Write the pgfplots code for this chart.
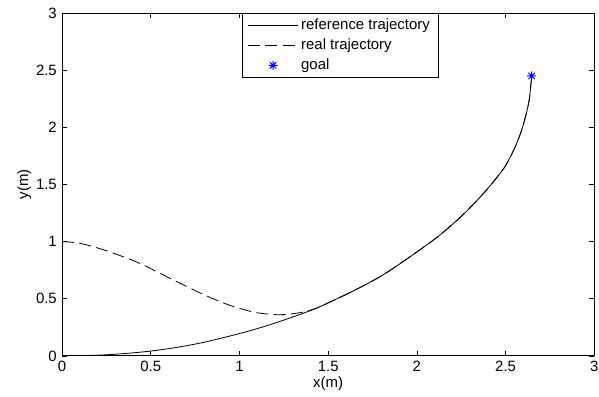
\documentclass[border=0pt]{standalone}
\usepackage{pgfplots}
\pgfplotsset{compat=1.18}
\usepackage{fontspec}
\setmainfont{Liberation Sans}

% eight-armed asterisk: a plus and a cross on top of each other
\pgfdeclareplotmark{star8}{%
  \pgfpathmoveto{\pgfqpoint{-\pgfplotmarksize}{0pt}}%
  \pgfpathlineto{\pgfqpoint{\pgfplotmarksize}{0pt}}%
  \pgfpathmoveto{\pgfqpoint{0pt}{-\pgfplotmarksize}}%
  \pgfpathlineto{\pgfqpoint{0pt}{\pgfplotmarksize}}%
  \pgfpathmoveto{\pgfqpoint{-0.707\pgfplotmarksize}{-0.707\pgfplotmarksize}}%
  \pgfpathlineto{\pgfqpoint{0.707\pgfplotmarksize}{0.707\pgfplotmarksize}}%
  \pgfpathmoveto{\pgfqpoint{-0.707\pgfplotmarksize}{0.707\pgfplotmarksize}}%
  \pgfpathlineto{\pgfqpoint{0.707\pgfplotmarksize}{-0.707\pgfplotmarksize}}%
  \pgfusepathqstroke}

\begin{document}
\begin{tikzpicture}
\fontsize{11.2pt}{13pt}\selectfont
\begin{axis}[
  name=ax,
  scale only axis,
  width=399pt, height=257pt,
  xmin=0, xmax=3, ymin=0, ymax=3,
  xtick={0,0.5,...,3}, ytick={0,0.5,...,3},
  /pgf/number format/assume math mode=true,
  tick label style={font=\fontsize{11.2pt}{13pt}\selectfont},
  label style={font=\fontsize{11.2pt}{13pt}\selectfont},
  xlabel={x(m)}, ylabel={y(m)},
  xlabel style={yshift=4pt},
  ylabel style={yshift=-4pt},
  tick align=inside,
  major tick length=4pt,
  axis line style={line width=0.6pt},
  every tick/.style={black, line width=0.5pt},
  legend cell align=left,
  legend style={at={(0.338,1)}, anchor=north west, draw=black, line width=0.6pt,
    font=\fontsize{11.2pt}{13pt}\selectfont, inner xsep=4pt, inner ysep=2pt,
    row sep=1.2pt},
  legend image code/.code={\draw[mark repeat=2,mark phase=2,#1]
    plot coordinates {(0pt,0pt) (18.75pt,0pt) (37.5pt,0pt)};},
]
% planned path
\addplot[black, line width=0.6pt, smooth] coordinates {
  (0,0) (0.2,0.006) (0.35,0.02) (0.5,0.042) (0.65,0.075) (0.8,0.119)
  (1.0,0.195) (1.15,0.262) (1.3,0.34) (1.43,0.415) (1.55,0.5) (1.65,0.575)
  (1.8,0.7) (1.95,0.855) (2.05,0.965) (2.14,1.07) (2.27,1.25) (2.38,1.43)
  (2.45,1.56) (2.5,1.665) (2.55,1.815) (2.587,1.96) (2.615,2.11)
  (2.634,2.25) (2.647,2.45)
};
\addlegendentry{reference trajectory}
% tracked path
\addplot[black, line width=0.6pt, smooth, dash pattern=on 9pt off 4pt] coordinates {
  (0,1) (0.1,0.985) (0.24,0.925) (0.43,0.815) (0.62,0.67) (0.8,0.535)
  (0.95,0.44) (1.09,0.38) (1.22,0.36) (1.33,0.375) (1.43,0.415) (1.55,0.5)
  (1.65,0.575) (1.8,0.7) (1.95,0.855) (2.05,0.965) (2.14,1.07) (2.27,1.25)
  (2.38,1.43) (2.45,1.56) (2.5,1.665) (2.55,1.815) (2.587,1.96) (2.615,2.11)
  (2.634,2.25) (2.647,2.45)
};
\addlegendentry{real trajectory}
% target point
\addplot[blue, only marks, mark=star8, mark size=3.4pt, line width=0.7pt] coordinates {(2.647,2.45)};
\addlegendentry{goal}
\end{axis}
\pgfresetboundingbox
\path ([xshift=-46.5pt,yshift=-30.75pt]ax.south west) rectangle ([xshift=3.5pt,yshift=9.75pt]ax.north east);
\end{tikzpicture}
\end{document}
